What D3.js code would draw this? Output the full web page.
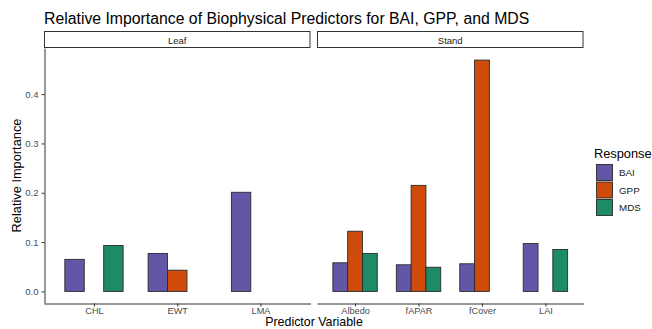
<!DOCTYPE html>
<meta charset="utf-8">
<style>
body{ margin:0; background:#fff; }
svg text{ font-family: "Liberation Sans", Arial, sans-serif; }
</style>
<body>
<script src="https://d3js.org/d3.v7.min.js"></script>
<script>
// data
const responses = ["BAI", "GPP", "MDS"];
const leafVars = ["CHL", "EWT", "LMA"];
const standVars = ["Albedo", "fAPAR", "fCover", "LAI"];
const baiValues = {CHL: 0.065, EWT: 0.077, LMA: 0.201, Albedo: 0.058, fAPAR: 0.054, fCover: 0.056, LAI: 0.097};
const gppValues = {EWT: 0.043, Albedo: 0.122, fAPAR: 0.215, fCover: 0.469};
const mdsValues = {CHL: 0.093, Albedo: 0.077, fAPAR: 0.049, LAI: 0.085};
const yTicks = [0, 0.1, 0.2, 0.3, 0.4];

const colors = {BAI: "#6256a6", GPP: "#cf4b0b", MDS: "#1d8b66"};
const seriesVals = {BAI: baiValues, GPP: gppValues, MDS: mdsValues};

const width = 652, height = 329;
const svg = d3.select("body").append("svg")
    .attr("width", width).attr("height", height);

const plotTop = 48, plotBottom = 303;
const y = d3.scaleLinear().domain([-0.0235, 0.4935]).range([plotBottom, plotTop]);

svg.append("text")
    .attr("x", 44).attr("y", 23.5)
    .style("font-size", "15.8px")
    .text("Relative Importance of Biophysical Predictors for BAI, GPP, and MDS");

const panels = [
    {name: "Leaf", vars: leafVars, x0: 44, x1: 310.5},
    {name: "Stand", vars: standVars, x0: 317, x1: 583.5}
];

const barW = 0.7 / 3;

panels.forEach(function(p, pi){
    const x = d3.scaleLinear()
        .domain([0.4, p.vars.length + 0.6])
        .range([p.x0, p.x1]);

    // strip
    svg.append("rect")
        .attr("x", p.x0 + 0.5).attr("y", 31.5)
        .attr("width", p.x1 - p.x0 - 1).attr("height", 16)
        .attr("fill", "#fff").attr("stroke", "#333").attr("stroke-width", 1);
    svg.append("text")
        .attr("x", (p.x0 + p.x1) / 2).attr("y", 43.5)
        .attr("text-anchor", "middle")
        .style("font-size", "9.5px").attr("fill", "#1a1a1a")
        .text(p.name);

    // bars
    const bars = [];
    p.vars.forEach(function(v, i){
        responses.forEach(function(r, j){
            const val = seriesVals[r][v];
            if (val === undefined) return;
            bars.push({v: v, pos: i + 1 + (j - 1) * barW, r: r, val: val});
        });
    });
    svg.append("g").selectAll("rect")
        .data(bars)
        .join("rect")
        .attr("x", d => x(d.pos - barW / 2))
        .attr("width", d => x(d.pos + barW / 2) - x(d.pos - barW / 2))
        .attr("y", d => y(d.val))
        .attr("height", d => y(0) - y(d.val))
        .attr("fill", d => colors[d.r])
        .attr("stroke", "#2b2b2b").attr("stroke-width", 0.9);

    // x axis
    const xAxis = d3.axisBottom(x)
        .tickValues(p.vars.map((v, i) => i + 1))
        .tickFormat((d, i) => p.vars[i])
        .tickSize(3).tickSizeOuter(0).tickPadding(0.5);
    const gx = svg.append("g")
        .attr("transform", "translate(0," + (plotBottom + 0.5) + ")")
        .call(xAxis);
    gx.select(".domain").attr("stroke", "#333");
    gx.selectAll(".tick line").attr("stroke", "#333");
    gx.selectAll("text").style("font-size", "9.2px").attr("fill", "#4d4d4d");

    if (pi === 0) {
        const yAxis = d3.axisLeft(y)
            .tickValues(yTicks)
            .tickFormat(d3.format(".1f"))
            .tickSize(3).tickSizeOuter(0).tickPadding(3);
        const gy = svg.append("g")
            .attr("transform", "translate(" + (p.x0 + 0.5) + ",0)")
            .call(yAxis);
        gy.select(".domain").attr("stroke", "#333");
        gy.selectAll(".tick line").attr("stroke", "#333");
        gy.selectAll("text").style("font-size", "9.5px").attr("fill", "#4d4d4d");
    }
});

// axis titles
svg.append("text")
    .attr("x", 314).attr("y", 326.3)
    .attr("text-anchor", "middle")
    .style("font-size", "12.4px")
    .text("Predictor Variable");
svg.append("text")
    .attr("transform", "translate(21," + ((plotTop + plotBottom) / 2) + ") rotate(-90)")
    .attr("text-anchor", "middle")
    .style("font-size", "12.8px")
    .text("Relative Importance");

// legend
const lg = svg.append("g").attr("transform", "translate(596,0)");
lg.append("text")
    .attr("x", -2).attr("y", 158)
    .style("font-size", "12.8px")
    .text("Response");
responses.forEach(function(r, i){
    lg.append("rect")
        .attr("x", 0.5).attr("y", 164.5 + i * 17.5)
        .attr("width", 16).attr("height", 16)
        .attr("fill", colors[r]).attr("stroke", "#2b2b2b").attr("stroke-width", 0.9);
    lg.append("text")
        .attr("x", 23).attr("y", 176 + i * 17.5)
        .style("font-size", "9.8px").attr("fill", "#1a1a1a")
        .text(r);
});
</script>
</body>
</html>
